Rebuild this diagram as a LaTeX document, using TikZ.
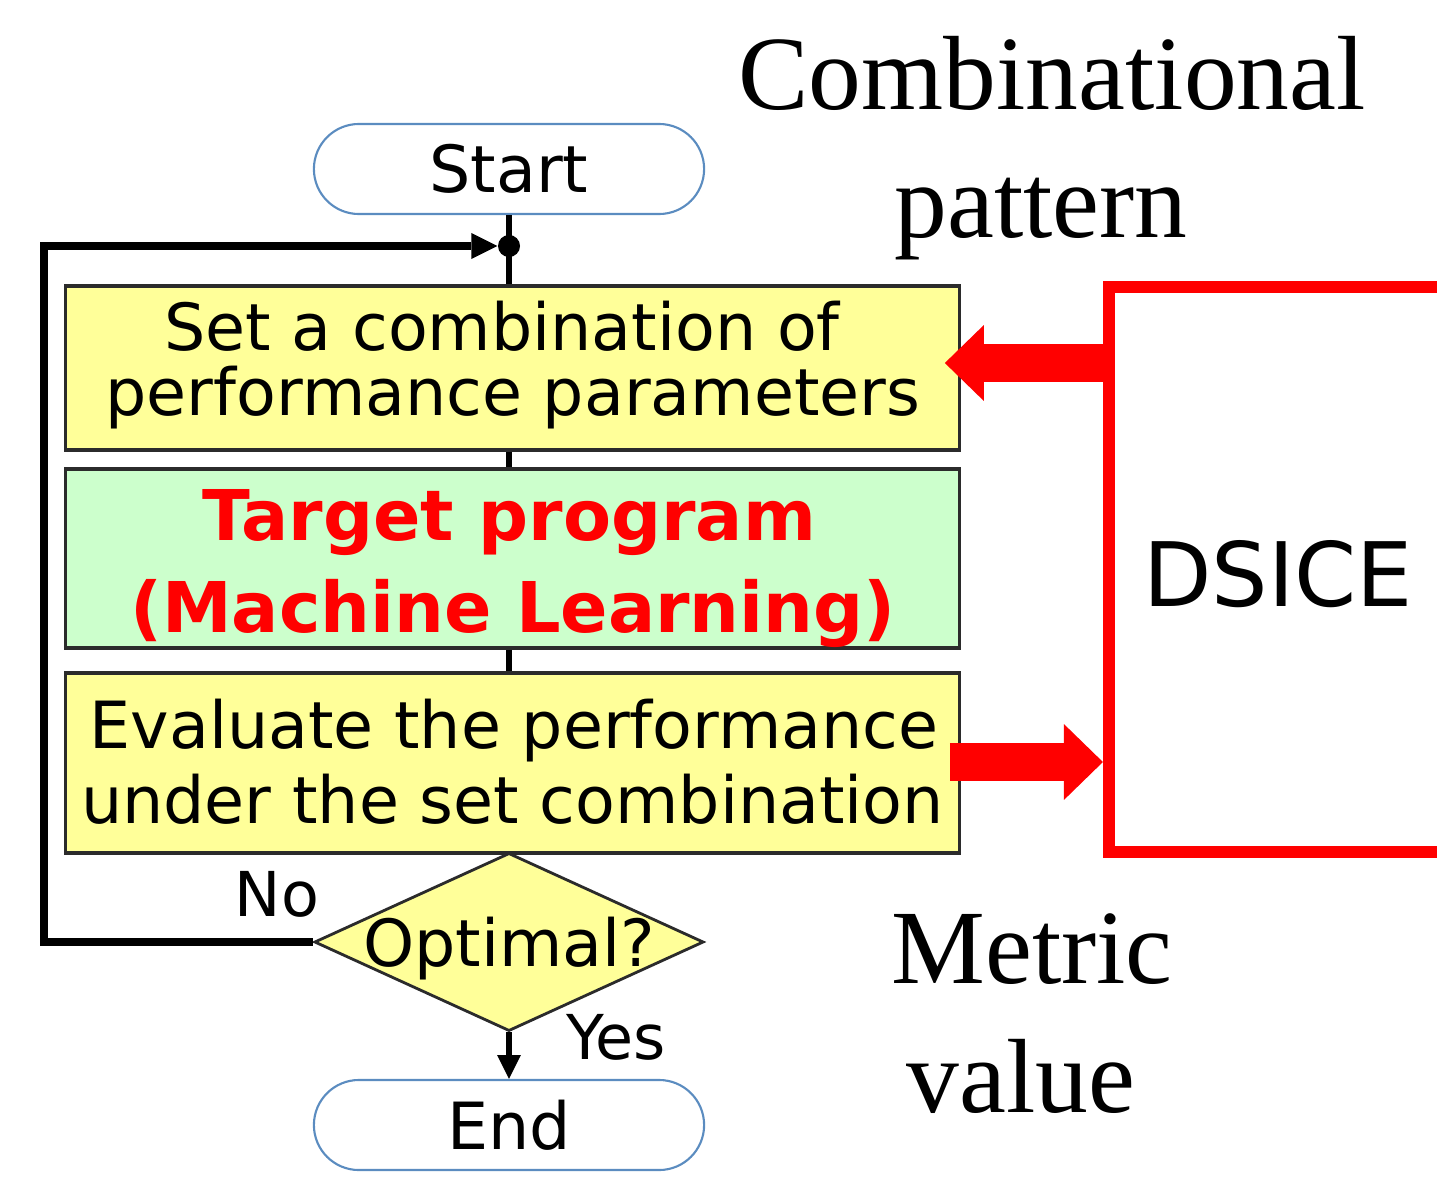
\documentclass[tikz,border=0pt]{standalone}
\usepackage{fontspec}
\setmainfont{Liberation Serif}
\newfontfamily\dejavu{DejaVu Sans}
\usetikzlibrary{shapes.geometric,shapes.misc,arrows.meta}
\definecolor{boxyellow}{HTML}{FFFF99}
\definecolor{boxgreen}{HTML}{CCFFCC}
\definecolor{termblue}{HTML}{5B8CC0}
\definecolor{boxedge}{HTML}{2B2B2B}
\definecolor{pured}{HTML}{FF0000}
\newcommand{\fsz}[1]{\fontsize{#1}{#1}\selectfont}
\tikzset{
  termnode/.style={rounded rectangle, draw=termblue, line width=0.6pt, fill=white,
    minimum width=3.9cm, minimum height=0.9cm, inner sep=0pt, font=\dejavu\fsz{18.5pt}},
  procbox/.style={rectangle, draw=boxedge, line width=0.9pt, minimum width=8.93cm, inner sep=0pt},
  decision/.style={diamond, draw=boxedge, line width=0.8pt, fill=boxyellow,
    minimum width=3.89cm, minimum height=1.78cm, inner sep=0pt},
  linetext/.style={anchor=base, inner sep=0pt, font=\dejavu\fsz{18.5pt}},
  redtext/.style={anchor=base, inner sep=0pt, text=pured, font=\dejavu\bfseries\fsz{19.9pt}},
  smalltext/.style={anchor=base, inner sep=0pt, font=\dejavu\fsz{17.6pt}},
  serifbig/.style={anchor=base, inner sep=0pt, font=\fsz{30pt}},
  dsicebox/.style={rectangle, draw=pured, line width=3.4pt, minimum width=3.91cm, minimum height=5.65cm, inner sep=0pt},
  dsicetext/.style={anchor=base, inner sep=0pt, font=\dejavu\fsz{25.3pt}},
  dotnode/.style={circle, fill=black, minimum size=0.22cm, inner sep=0pt},
  conn/.style={draw=black, line width=1.8pt},
  loopline/.style={draw=black, line width=2.4pt, line join=miter,
    -{Triangle[length=7.4pt, width=7.4pt, line width=0pt]}},
  endarrow/.style={draw=black, line width=1.8pt,
    -{Triangle[length=6.8pt, width=6.8pt, line width=0pt]}},
  blockarrow/.style={draw=pured, line width=10.8pt,
    -{Triangle[length=11.1pt, width=21.6pt, line width=0pt]}}
}
\begin{document}
\begin{tikzpicture}[x=0.01cm,y=-0.01cm]
\useasboundingbox (0,0) rectangle (1437,1179);
\clip (0,0) rectangle (1437,1179);

% flowchart nodes
\node[termnode] (start) at (509,169) {Start};
\node[procbox, fill=boxyellow, minimum height=1.64cm] (b1) at (512.5,368) {};
\node[procbox, fill=boxgreen, minimum height=1.79cm] (b2) at (512.5,558.5) {};
\node[procbox, fill=boxyellow, minimum height=1.80cm] (b3) at (512.5,763) {};
\node[decision] (dec) at (509,942) {};
\node[termnode] (end) at (509,1125) {End};

% texts in the boxes
\node[linetext] (b1a) at (502,350) {Set a combination of};
\node[linetext] (b1b) at (513,415) {performance parameters};
\node[redtext] (b2a) at (509.5,540) {Target program};
\node[redtext] (b2b) at (513,632) {(Machine Learning)};
\node[linetext] (b3a) at (514,748) {Evaluate the performance};
\node[linetext] (b3b) at (512.5,823) {under the set combination};
\node[linetext] (dect) at (509,966) {Optimal?};
\node[smalltext] (no) at (277,916) {No};
\node[smalltext] (yes) at (616,1059) {Yes};

% connectors
\node[dotnode] (dot) at (509,246) {};
\draw[conn] (start.south) -- (dot.center) -- (dot |- b1.north);
\draw[conn] (b1.south -| dot) -- (b2.north -| dot);
\draw[conn] (b2.south -| dot) -- (b3.north -| dot);
\draw[endarrow] (dec.south) -- (end.north);
\coordinate (lp) at (44,0);
\draw[loopline] (dec.west) -| (lp |- dot) -- (dot.west);

% DSICE
\node[dsicebox] (dsice) at (1304.5,569.5) {};
\node[dsicetext] (dsicet) at (1278,606) {DSICE};

% red block arrows
\coordinate (a1y) at (0,363);
\coordinate (a1e) at ([xshift=-0.16cm]b1.east);
\draw[blockarrow] (dsice.west |- a1y) -- (a1e |- a1y);
\coordinate (a2y) at (0,762);
\coordinate (a2s) at ([xshift=-0.11cm]b3.east);
\coordinate (a2e) at (dsice.west);
\draw[blockarrow] (a2s |- a2y) -- (a2e |- a2y);

% labels
\node[serifbig] (lab1) at (1052,110) {Combinational};
\node[serifbig] (lab2) at (1041,237) {pattern};
\node[serifbig] (lab3) at (1032,983) {Metric};
\node[serifbig] (lab4) at (1021,1112) {value};
\end{tikzpicture}
\end{document}
